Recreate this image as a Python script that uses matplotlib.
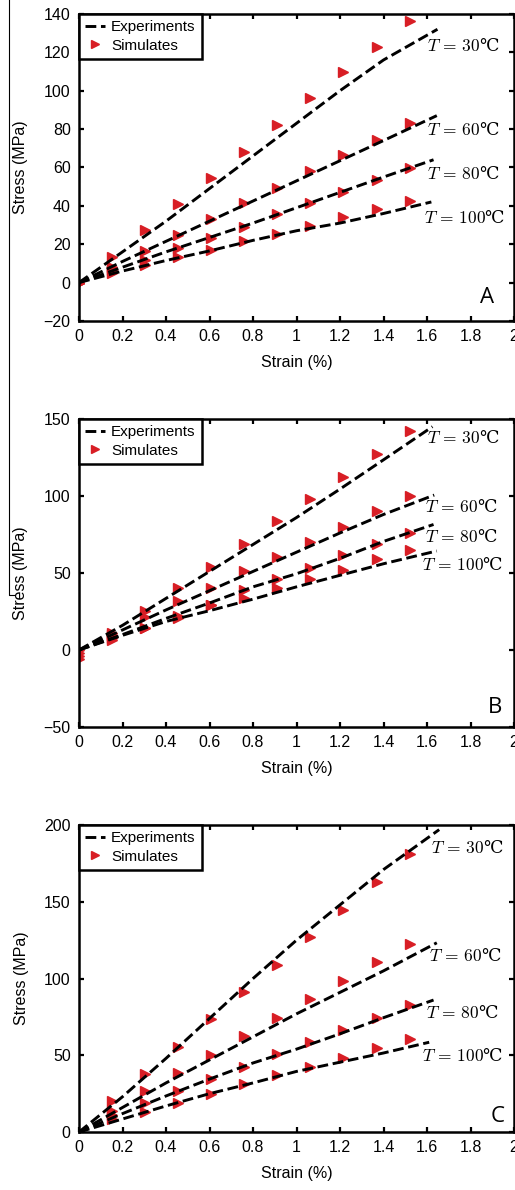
import matplotlib
matplotlib.use("Agg")
import matplotlib.pyplot as plt
from matplotlib.lines import Line2D

plt.rcParams["font.family"] = ["Liberation Sans", "DejaVu Sans"]
plt.rcParams["mathtext.fontset"] = "cm"

# ----------------------------------------------------------------------
# Data (stress in MPa, strain in %)
# ----------------------------------------------------------------------
temps = [30, 60, 80, 100]
strain_sim = [0, 0.152, 0.304, 0.456, 0.608, 0.76, 0.912, 1.064, 1.216, 1.368, 1.52]
strain_exp = [0, 0.2, 0.4, 0.6, 0.8, 1.0, 1.2, 1.4]   # + per-curve end point

# panel A
a_sim = [
    [0, 13.5, 27.5, 41, 54.5, 68, 82, 96, 109.5, 123, 136.5],
    [0, 8, 16.5, 25, 33, 41.5, 49.5, 58, 66.5, 74.5, 83],
    [0, 6.5, 11.5, 18, 23, 29, 35.5, 41.5, 47, 53.5, 59.5],
    [0, 5, 9, 13.5, 17, 21.5, 25.5, 29.5, 34, 38.5, 42.5],
]
a_exp = [
    [0, 16, 32, 49, 66, 83, 100, 116, 132],
    [0, 11, 21.5, 32, 42.5, 53, 63.5, 74, 87],
    [0, 8, 16, 23.5, 31, 39, 47, 55, 64],
    [0, 6, 11.5, 16.5, 22, 27, 31, 36, 42],
]
a_exp_end = [1.648, 1.645, 1.63, 1.62]

# panel B
b_sim = [
    [0, 11, 25, 40, 54, 69, 84, 98, 112.5, 127.5, 142],
    [-2, 10, 21.5, 31.5, 40.5, 51, 60.5, 70, 80, 90, 100],
    [-4, 7.5, 14.5, 22, 29.5, 39, 46, 53.5, 61.5, 69, 76],
    [-6, 6.5, 14, 21, 29, 33.5, 40, 46, 52, 59, 65],
]
b_exp = [
    [0, 16, 33.5, 51, 68.5, 86, 104.5, 123.5, 145],
    [0, 13, 26, 38.5, 51, 63.5, 76, 88, 100.6],
    [0, 10, 20.5, 30.5, 41, 49.5, 59.5, 70.5, 81.5],
    [0, 9.5, 18.5, 25.5, 33, 41, 48.5, 56, 64.3],
]
b_exp_end = [1.625, 1.633, 1.63, 1.645]

# panel C
c_sim = [
    [0, 20, 38, 55.5, 73.5, 91.5, 109, 127, 144.5, 163, 181],
    [0, 14, 26.5, 38.5, 50.5, 62.5, 74.5, 86.5, 98.5, 110.5, 122.5],
    [0, 11, 19, 26.5, 34.5, 42.5, 51, 58.5, 66.5, 74.5, 82.5],
    [0, 8.5, 13, 19, 25, 31, 37, 42.5, 48.5, 54.5, 60.5],
]
c_exp = [
    [0, 23, 48, 74, 100, 125, 148, 171, 197],
    [0, 16, 32, 47, 62, 77, 91, 105, 123.3],
    [0, 12, 23.5, 34.5, 45, 54, 64, 74.5, 86],
    [0, 8.5, 17, 25, 32, 39.5, 45.5, 51.5, 58.5],
]
c_exp_end = [1.656, 1.645, 1.63, 1.61]

x_ticks = [0, 0.2, 0.4, 0.6, 0.8, 1.0, 1.2, 1.4, 1.6, 1.8, 2.0]

# label anchor points (left edge x, centre y) of the "T = ..." texts
a_label_pos = [(1.60, 123), (1.60, 79), (1.60, 56.5), (1.585, 33.5)]
b_label_pos = [(1.60, 137.5), (1.59, 92.4), (1.59, 73), (1.579, 54.7)]
c_label_pos = [(1.617, 184.8), (1.61, 114.2), (1.595, 76.9), (1.579, 49)]

RED = "#d81e25"


def draw_panel(ax, sim, exp, exp_end, yticks, label_pos, letter, letter_xy):
    for i, t in enumerate(temps):
        ax.plot(strain_exp + [exp_end[i]], exp[i], ls="--", color="k", lw=2.1,
                label="Experiments" if i == 0 else None, zorder=3)
        ax.plot(strain_sim, sim[i], ls="none", marker=">", ms=6.5, color=RED,
                mec=RED, label="Simulates" if i == 0 else None, zorder=2)
        lx, ly = label_pos[i]
        ax.text(lx, ly, r"$T\,=\,%d$" % t + "\u2103", fontsize=12.5,
                family=["DejaVu Serif", "Noto Sans CJK SC"],
                ha="left", va="center")

    ax.set_xlim(0, 2)
    ax.set_ylim(yticks[0], yticks[-1])
    ax.set_xticks(x_ticks)
    ax.set_xticklabels(["%g" % v for v in x_ticks])
    ax.set_yticks(yticks)
    ax.tick_params(direction="in", top=True, right=True, length=3.5,
                   width=1.6, labelsize=11.5, pad=6)
    for s in ax.spines.values():
        s.set_linewidth(1.8)
    ax.set_xlabel("Strain (%)", fontsize=11.5, labelpad=8)
    ax.set_ylabel("Stress (MPa)", fontsize=11.5, labelpad=11)

    leg = ax.legend(loc="upper left", borderaxespad=0, fancybox=False,
                    edgecolor="k", framealpha=1, fontsize=11, numpoints=1,
                    markerscale=0.85, handlelength=1.3, handletextpad=0.4,
                    labelspacing=0.3, borderpad=0.4)
    leg.get_frame().set_linewidth(1.8)

    ax.text(letter_xy[0], letter_xy[1], letter, transform=ax.transAxes,
            fontsize=16, family=["Open Sans", "DejaVu Sans"],
            ha="center", va="center")


fig = plt.figure(figsize=(5.15, 11.9), dpi=100)
ax_a = fig.add_axes([0.1534, 0.7303, 0.8447, 0.258])
ax_b = fig.add_axes([0.1534, 0.3891, 0.8447, 0.2588])
ax_c = fig.add_axes([0.1534, 0.0487, 0.8447, 0.258])

draw_panel(ax_a, a_sim, a_exp, a_exp_end, [-20, 0, 20, 40, 60, 80, 100, 120, 140],
           a_label_pos, "A", (0.939, 0.077))
draw_panel(ax_b, b_sim, b_exp, b_exp_end, [-50, 0, 50, 100, 150],
           b_label_pos, "B", (0.956, 0.062))
draw_panel(ax_c, c_sim, c_exp, c_exp_end, [0, 50, 100, 150, 200],
           c_label_pos, "C", (0.963, 0.05))

# thin crop line along the left edge of the original scan
fig.add_artist(Line2D([9 / 515, 9 / 515, 15 / 515], [1, 1 - 595 / 1190, 1 - 595 / 1190],
                      transform=fig.transFigure, color="k", lw=0.8))

fig.savefig("out.png", dpi=100)
